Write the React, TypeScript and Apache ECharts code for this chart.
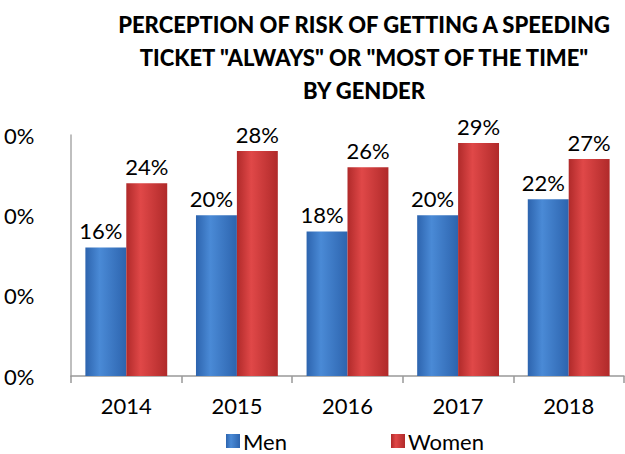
import React, { useEffect, useRef } from "react";
import * as echarts from "echarts";

const titleLines = [
  "PERCEPTION OF RISK OF GETTING A SPEEDING",
  'TICKET "ALWAYS" OR "MOST OF THE TIME"',
  "BY GENDER",
];
const categories = ["2014", "2015", "2016", "2017", "2018"];
const menValues = [16, 20, 18, 20, 22];
const womenValues = [24, 28, 26, 29, 27];
const yTickLabels = ["0%", "0%", "0%", "0%"];
const seriesNames = ["Men", "Women"];

const FONT = "Lato, 'Open Sans', sans-serif";

function grad(edge: string, mid: string) {
  return new echarts.graphic.LinearGradient(0, 0, 1, 0, [
    { offset: 0, color: edge },
    { offset: 0.35, color: mid },
    { offset: 1, color: edge },
  ]);
}

export default function App() {
  const ref = useRef<HTMLDivElement>(null);
  useEffect(() => {
    if (!ref.current) return;
    const chart = echarts.init(ref.current, undefined, { renderer: "svg" });
    chart.setOption({
      animation: false,
      backgroundColor: "#ffffff",
      title: {
        text: titleLines.join("\n"),
        left: 359,
        top: 3,
        textAlign: "center",
        textStyle: {
          fontFamily: FONT,
          fontSize: 22,
          fontWeight: 900,
          color: "#000",
          lineHeight: 33,
        },
      },
      legend: {
        data: seriesNames,
        left: 226,
        top: 430,
        padding: 0,
        icon: "rect",
        itemWidth: 14,
        itemHeight: 14,
        itemGap: 104,
        textStyle: { fontFamily: FONT, fontSize: 22, color: "#000", lineHeight: 22, padding: [0, 0, 0, -2] },
      },
      grid: { left: 71, right: 1, top: 135, bottom: 78, containLabel: false },
      xAxis: {
        type: "category",
        data: categories,
        axisLine: { lineStyle: { color: "#999", width: 1.5 } },
        axisTick: { show: true, length: 7, lineStyle: { color: "#999", width: 1.5 } },
        axisLabel: { fontFamily: FONT, fontSize: 22, color: "#000", margin: 18 },
      },
      yAxis: {
        type: "value",
        min: 0,
        max: 30,
        interval: 10,
        splitLine: { show: false },
        axisLine: { show: true, lineStyle: { color: "#aaa", width: 1.5 } },
        axisTick: { show: false },
        axisLabel: {
          fontFamily: FONT,
          fontSize: 22,
          color: "#000",
          align: "left",
          margin: 67,
          formatter: (_v: number, i: number) => yTickLabels[i] ?? "",
        },
      },
      series: [
        {
          name: seriesNames[0],
          type: "bar",
          data: menValues,
          barGap: "0%",
          barCategoryGap: "26%",
          itemStyle: { color: grad("#2D64AE", "#4A8AD6") },
          label: {
            show: true,
            position: "top",
            distance: 6,
            offset: [-5, 0],
            formatter: "{c}%",
            fontFamily: FONT,
            fontSize: 22,
            color: "#000",
          },
        },
        {
          name: seriesNames[1],
          type: "bar",
          data: womenValues,
          itemStyle: { color: grad("#B02A2A", "#E04848") },
          label: {
            show: true,
            position: "top",
            distance: 6,
            formatter: "{c}%",
            fontFamily: FONT,
            fontSize: 22,
            color: "#000",
          },
        },
      ],
    });
    return () => chart.dispose();
  }, []);
  return <div ref={ref} style={{ width: 625, height: 454, position: "absolute", left: 0, top: 0 }} />;
}
